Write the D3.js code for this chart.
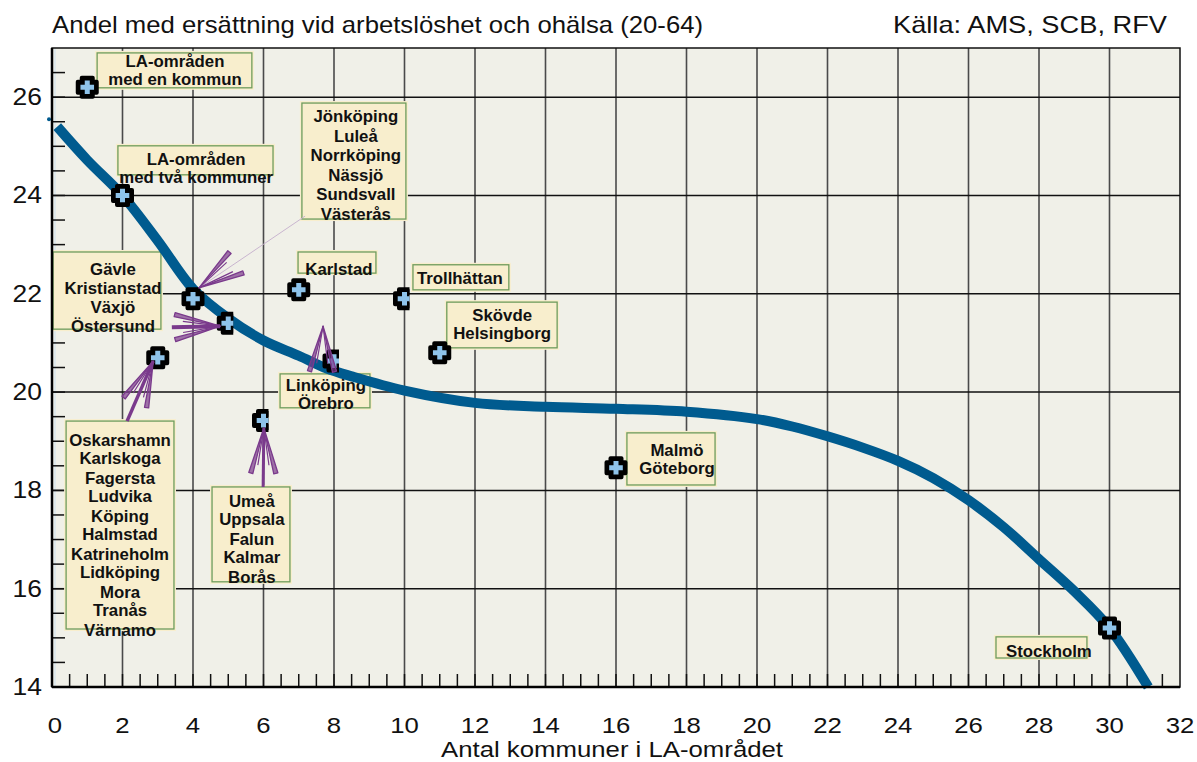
<html>
<head>
<meta charset="utf-8">
<script src="https://d3js.org/d3.v7.min.js"></script>
<style>
  body { margin: 0; background: #fff; }
  text { font-family: "Liberation Sans", Arial, sans-serif; }
</style>
</head>
<body>
<svg id="svg" width="1197" height="762"></svg>
<script>
// DATA
const xTicks = [0, 2, 4, 6, 8, 10, 12, 14, 16, 18, 20, 22, 24, 26, 28, 30, 32]
const yTicks = [14, 16, 18, 20, 22, 24, 26]

// fitted curve
const curveX = [0.15, 1, 2, 3, 4, 5, 6, 7, 7.8, 8.5, 10, 12, 14, 16, 18, 20, 21, 22, 23, 24, 25, 26, 27, 28, 29, 30, 31.1]
const curveY = [25.4, 24.72, 24.0, 23.08, 22.1, 21.5, 21.05, 20.74, 20.48, 20.32, 20.03, 19.78, 19.7, 19.66, 19.6, 19.45, 19.3, 19.1, 18.87, 18.6, 18.25, 17.8, 17.25, 16.6, 15.95, 15.2, 14.0]
const curveStart = [0, 25.55]

// LA-områden, antal kommuner vs andel
const pointX = [1, 2, 3, 4, 5, 6, 7, 8, 10, 11, 16, 30]
const pointY = [26.2, 24.0, 20.7, 21.9, 21.4, 19.42, 22.08, 20.63, 21.9, 20.8, 18.46, 15.2]

const labelLines = [
  ["LA-områden", "med en kommun"],
  ["LA-områden", "med två kommuner"],
  ["Jönköping", "Luleå", "Norrköping", "Nässjö", "Sundsvall", "Västerås"],
  ["Karlstad"],
  ["Trollhättan"],
  ["Skövde", "Helsingborg"],
  ["Gävle", "Kristianstad", "Växjö", "Östersund"],
  ["Linköping", "Örebro"],
  ["Oskarshamn", "Karlskoga", "Fagersta", "Ludvika", "Köping", "Halmstad", "Katrineholm", "Lidköping", "Mora", "Tranås", "Värnamo"],
  ["Umeå", "Uppsala", "Falun", "Kalmar", "Borås"],
  ["Malmö", "Göteborg"],
  ["Stockholm"]
]

// annotation placement (data units): box [x0, yTop, x1, yBottom], text [centre x, first baseline y]
const labelBox = [
  [1.28, 26.9, 5.67, 26.19], [1.87, 25.01, 6.27, 24.42], [7.09, 25.88, 10.04, 23.52],
  [6.98, 22.85, 9.19, 22.42], [10.24, 22.59, 12.96, 22.08], [11.2, 21.83, 14.33, 20.9],
  [0.03, 22.85, 3.09, 21.28], [6.47, 20.37, 9.02, 19.68], [0.4, 19.41, 3.46, 15.18],
  [4.54, 18.07, 6.75, 16.14], [16.31, 19.17, 18.81, 18.11], [26.78, 15.02, 29.36, 14.59]
]
const labelText = [
  [3.49, 26.62], [4.09, 24.62], [8.62, 25.5], [8.14, 22.38], [11.57, 22.2], [12.77, 21.45],
  [1.73, 22.38], [7.77, 20.02], [1.93, 18.9], [5.67, 17.66], [17.73, 18.7], [28.28, 14.61]
]
// arrows: [tail x, tail y, tip x, tip y]
const arrows = [
  [7.18, 23.58, 4.17, 22.12],
  [3.40, 21.32, 4.77, 21.34],
  [2.13, 19.41, 2.87, 20.63],
  [5.99, 18.07, 6.01, 19.27],
  [7.66, 20.41, 7.69, 21.34]
]

// LAYOUT
const svg = d3.select("#svg")
const x = d3.scaleLinear().domain([0, 32]).range([52, 1180])
const y = d3.scaleLinear().domain([14, 27]).range([687, 48])
const purple = "#7a3a8c"
const blue = "#005b8f"

// stretched plain text (the original font runs wide)
function stext(g, px, py, str, size, anchor, sx) {
  return g.append("text").attr("transform", `translate(${px},${py}) scale(${sx},1)`)
    .attr("font-size", size).attr("fill", "#111").attr("text-anchor", anchor).text(str)
}

// title
svg.append("text").attr("x", 52).attr("y", 33).attr("font-size", 24).attr("fill", "#111")
  .attr("textLength", 651).attr("lengthAdjust", "spacingAndGlyphs")
  .text("Andel med ersättning vid arbetslöshet och ohälsa (20-64)")
svg.append("text").attr("x", 893).attr("y", 33).attr("font-size", 24).attr("fill", "#111")
  .attr("textLength", 274).attr("lengthAdjust", "spacingAndGlyphs").text("Källa: AMS, SCB, RFV")

// plot background
svg.append("rect").attr("x", x(0)).attr("y", y(27)).attr("width", x(32) - x(0)).attr("height", y(14) - y(27))
  .attr("fill", "#f0f0e8")
svg.append("line").attr("x1", x(0) + 3).attr("x2", x(0) + 3).attr("y1", y(27)).attr("y2", y(14))
  .attr("stroke", "#cfe2ee").attr("stroke-width", 1)

// grid
const grid = svg.append("g")
grid.selectAll("line.v").data(xTicks.filter(d => d > 0 && d < 32)).enter().append("line")
  .attr("x1", d => x(d)).attr("x2", d => x(d)).attr("y1", y(27)).attr("y2", y(14))
  .attr("stroke", "#4a4a4a").attr("stroke-width", 1.6)
grid.selectAll("line.h").data(yTicks.filter(d => d > 14)).enter().append("line")
  .attr("x1", x(0)).attr("x2", x(32)).attr("y1", d => y(d)).attr("y2", d => y(d))
  .attr("stroke", "#111").attr("stroke-width", 1.5)

// minor ticks
grid.selectAll("line.tx").data(d3.range(1, 64).map(i => i / 2)).enter().append("line")
  .attr("x1", d => x(d)).attr("x2", d => x(d)).attr("y1", y(14)).attr("y2", y(14) - 13)
  .attr("stroke", "#111").attr("stroke-width", 1.5)
grid.selectAll("line.ty").data(d3.range(29, 54).map(i => i / 2)).enter().append("line")
  .attr("x1", x(0)).attr("x2", x(0) + 13).attr("y1", d => y(d)).attr("y2", d => y(d))
  .attr("stroke", "#111").attr("stroke-width", 1.5)

// label boxes (under the curve and markers)
const defaultSteps = [18, 20]
const labelSteps = { 2: [20.5, 18.5], 6: [18.5, 19.5] }
const labels = svg.append("g")
labelLines.forEach((lines, i) => {
  const b = labelBox[i]
  labels.append("rect").attr("x", x(b[0]) - 2).attr("y", y(b[1]) - 2)
    .attr("width", x(b[2]) - x(b[0]) + 4).attr("height", y(b[3]) - y(b[1]) + 4)
    .attr("fill", "#f8eecd")
  labels.append("rect").attr("x", x(b[0])).attr("y", y(b[1]))
    .attr("width", x(b[2]) - x(b[0])).attr("height", y(b[3]) - y(b[1]))
    .attr("fill", "none").attr("stroke", "#6e9c5c").attr("stroke-width", 1.3)
})

// curve
const line = d3.line().x(d => x(d[0])).y(d => y(d[1])).curve(d3.curveCatmullRom.alpha(0.5))
svg.append("path").datum(curveX.map((v, i) => [v, curveY[i]]))
  .attr("d", line).attr("fill", "none").attr("stroke", blue)
  .attr("stroke-width", 10).attr("stroke-linejoin", "round")
svg.append("circle").attr("cx", x(curveStart[0]) - 3).attr("cy", y(curveStart[1])).attr("r", 2).attr("fill", blue)

// label texts
labelLines.forEach((lines, i) => {
  const t = labelText[i]
  const st = labelSteps[i] || defaultSteps
  let off = 0
  lines.forEach((s, j) => {
    labels.append("text").attr("x", x(t[0])).attr("y", y(t[1]) + off)
      .attr("text-anchor", "middle").attr("font-size", 16).attr("font-weight", "bold")
      .attr("fill", "#111").attr("transform", `translate(${x(t[0])},0) scale(1.05,1) translate(${-x(t[0])},0)`)
      .text(s)
    off += st[j % 2]
  })
})

// markers
const plus = (a, b) => `M${-a},${-b}H${a}V${-a}H${b}V${a}H${a}V${b}H${-a}V${a}H${-b}V${-a}H${-a}Z`
const halfShown = new Set([5, 6, 8, 10])
svg.append("defs").append("clipPath").attr("id", "half")
  .append("rect").attr("x", -14).attr("y", -14).attr("width", 19).attr("height", 28)
const markers = svg.append("g").selectAll("g").data(pointX.map((v, i) => [v, pointY[i]])).enter().append("g")
  .attr("transform", d => `translate(${x(d[0])},${y(d[1])})`)
const inner = markers.append("g").attr("clip-path", d => halfShown.has(d[0]) ? "url(#half)" : null)
inner.append("path").attr("d", plus(5.5, 9.5)).attr("fill", "#000")
  .attr("stroke", "#000").attr("stroke-width", 4).attr("stroke-linejoin", "round")
inner.append("path").attr("d", plus(2.5, 6.8)).attr("fill", "#8ec3ea")

// arrows
const arrowShaft = [1, 4, 3.5, 3, 0]
const arrowShaftColor = ["#c9b5cf", purple, purple, purple, purple]
const ag = svg.append("g")
arrows.forEach((a, i) => {
  const x0 = x(a[0]), y0 = y(a[1]), x1 = x(a[2]), y1 = y(a[3])
  const ang = Math.atan2(y0 - y1, x0 - x1)
  if (arrowShaft[i] > 0) {
    ag.append("line").attr("x1", x0).attr("y1", y0).attr("x2", x1).attr("y2", y1)
      .attr("stroke", arrowShaftColor[i]).attr("stroke-width", arrowShaft[i])
  }
  const L = 47, th = 0.27, dl = 0.045
  ;[-1, 1].forEach(s => {
    const a1 = ang + s * th - dl, a2 = ang + s * th + dl
    ag.append("path")
      .attr("d", `M${x1},${y1}L${x1 + L * Math.cos(a1)},${y1 + L * Math.sin(a1)}L${x1 + L * Math.cos(a2)},${y1 + L * Math.sin(a2)}Z`)
      .attr("fill", purple).attr("fill-opacity", 0.7).attr("stroke", purple).attr("stroke-width", 1.3)
      .attr("stroke-linejoin", "round")
    const a3 = ang + s * th * 0.55
    ag.append("line").attr("x1", x1).attr("y1", y1)
      .attr("x2", x1 + L * 0.8 * Math.cos(a3)).attr("y2", y1 + L * 0.8 * Math.sin(a3))
      .attr("stroke", purple).attr("stroke-width", 1.2)
  })
})

// frame
svg.append("rect").attr("x", x(0)).attr("y", y(27)).attr("width", x(32) - x(0)).attr("height", y(14) - y(27))
  .attr("fill", "none").attr("stroke", "#111").attr("stroke-width", 1.5)
svg.append("line").attr("x1", x(0)).attr("x2", x(32)).attr("y1", y(14)).attr("y2", y(14))
  .attr("stroke", "#000").attr("stroke-width", 2.5)
svg.append("line").attr("x1", x(0)).attr("x2", x(0)).attr("y1", y(27)).attr("y2", y(14))
  .attr("stroke", "#000").attr("stroke-width", 2.5)

// tick labels
const tl = svg.append("g")
xTicks.forEach(d => stext(tl, x(d) + (d === 0 ? 3 : 0), 733, d, 23, "middle", 1.12))
yTicks.forEach(d => stext(tl, 42, y(d) + 8, d, 23, "end", 1.15))

stext(svg, 612, 757, "Antal kommuner i LA-området", 23, "middle", 1.12)
</script>
</body>
</html>
